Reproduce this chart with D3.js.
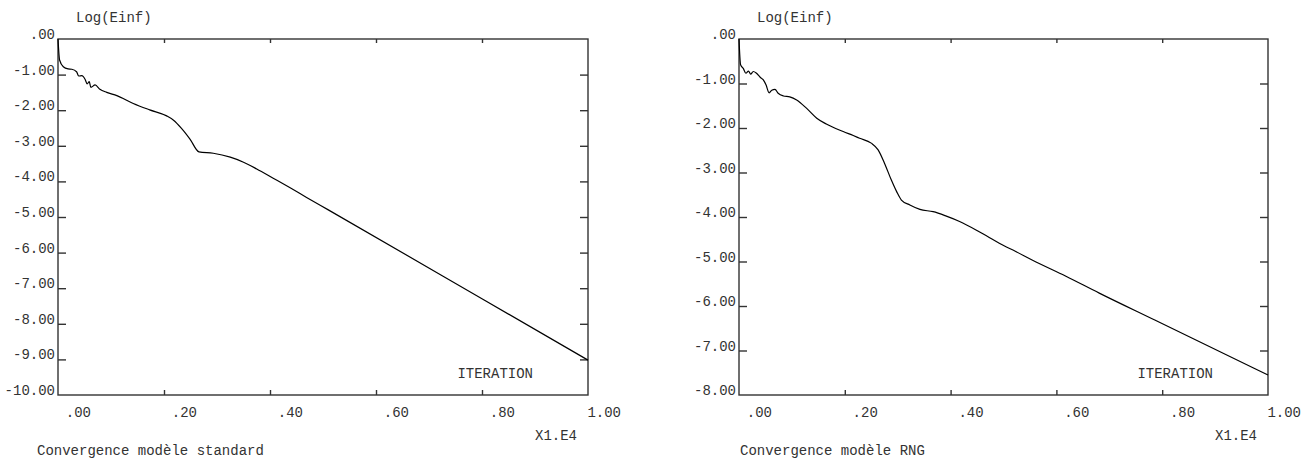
<!DOCTYPE html>
<html>
<head>
<meta charset="utf-8">
<script src="https://cdn.jsdelivr.net/npm/d3@7"></script>
<style>
  html, body { margin: 0; padding: 0; background: #fff; }
  svg { display: block; }
  text { font-family: "Liberation Mono", "Courier New", monospace; font-size: 14px; fill: #333; }
</style>
</head>
<body>
<svg id="chart" width="1309" height="462"></svg>
<script>
// ---- data ----
const xTickValues = [0, 0.2, 0.4, 0.6, 0.8, 1.0];
const xTickLabels = [".00", ".20", ".40", ".60", ".80", "1.00"];

const stdYTicks = [0, -1, -2, -3, -4, -5, -6, -7, -8, -9, -10];
const stdYLabels = [".00", "-1.00", "-2.00", "-3.00", "-4.00", "-5.00", "-6.00", "-7.00", "-8.00", "-9.00", "-10.00"];
const rngYTicks = [0, -1, -2, -3, -4, -5, -6, -7, -8];
const rngYLabels = [".00", "-1.00", "-2.00", "-3.00", "-4.00", "-5.00", "-6.00", "-7.00", "-8.00"];

const stdIter = [0, 0.003, 0.010, 0.019, 0.026, 0.035, 0.039, 0.045, 0.051, 0.055, 0.059, 0.062, 0.070, 0.079, 0.092, 0.111, 0.142, 0.173, 0.205, 0.218, 0.233, 0.249, 0.266, 0.293, 0.325, 0.350, 0.375, 0.406, 0.438, 0.469, 0.510, 0.804, 1.0];
const stdLog  = [0, -0.59, -0.78, -0.84, -0.85, -0.92, -1.04, -1.03, -1.13, -1.26, -1.20, -1.36, -1.29, -1.41, -1.50, -1.59, -1.81, -1.99, -2.16, -2.28, -2.51, -2.81, -3.17, -3.21, -3.32, -3.46, -3.65, -3.91, -4.18, -4.45, -4.80, -7.33, -9.02];

const rngIter = [0, 0.003, 0.008, 0.013, 0.018, 0.022, 0.027, 0.033, 0.040, 0.046, 0.051, 0.057, 0.062, 0.068, 0.074, 0.084, 0.096, 0.109, 0.128, 0.147, 0.165, 0.197, 0.216, 0.228, 0.250, 0.263, 0.275, 0.288, 0.298, 0.307, 0.323, 0.342, 0.367, 0.392, 0.417, 0.448, 0.470, 0.492, 0.524, 0.555, 0.618, 0.681, 0.785, 1.0];
const rngLog  = [0, -0.58, -0.66, -0.77, -0.72, -0.79, -0.73, -0.77, -0.86, -0.92, -1.03, -1.21, -1.15, -1.13, -1.22, -1.28, -1.30, -1.37, -1.56, -1.78, -1.91, -2.08, -2.17, -2.23, -2.34, -2.49, -2.79, -3.17, -3.43, -3.62, -3.73, -3.83, -3.88, -3.98, -4.10, -4.29, -4.44, -4.59, -4.78, -4.97, -5.33, -5.71, -6.31, -7.55];

const yTitle = "Log(Einf)";
const xTitle = "ITERATION";
const xUnit = "X1.E4";
const stdCaption = "Convergence modèle standard";
const rngCaption = "Convergence modèle RNG";

// ---- drawing ----
(function () {
const svg = d3.select("#chart");
const plotTop = 39, plotBottom = 395;

function panel(opt) {
  const x = d3.scaleLinear().domain([0, 1]).range([opt.x0, opt.x1]);
  const y = d3.scaleLinear().domain([0, opt.ymin]).range([plotTop, plotBottom]);
  const g = svg.append("g");
  const axisColor = "#333";

  g.append("rect").attr("x", opt.x0).attr("y", plotTop)
    .attr("width", opt.x1 - opt.x0).attr("height", plotBottom - plotTop)
    .attr("fill", "none").attr("stroke", axisColor).attr("stroke-width", 1.4);

  const inner = xTickValues.slice(1, -1);
  g.append("g").attr("transform", `translate(0,${plotTop})`)
    .call(d3.axisBottom(x).tickValues(inner).tickSize(4).tickFormat(""))
    .call(a => a.select(".domain").remove())
    .selectAll("line").attr("stroke", axisColor).attr("stroke-width", 1.4);
  g.append("g").attr("transform", `translate(0,${plotBottom})`)
    .call(d3.axisTop(x).tickValues(inner).tickSize(5).tickFormat(""))
    .call(a => a.select(".domain").remove())
    .selectAll("line").attr("stroke", axisColor).attr("stroke-width", 1.4);
  const yInner = opt.yTicks.slice(1, -1);
  g.append("g").attr("transform", `translate(${opt.x0},0)`)
    .call(d3.axisRight(y).tickValues(yInner).tickSize(8).tickFormat(""))
    .call(a => a.select(".domain").remove())
    .selectAll("line").attr("stroke", axisColor).attr("stroke-width", 1.4);
  g.append("g").attr("transform", `translate(${opt.x1},0)`)
    .call(d3.axisLeft(y).tickValues(yInner).tickSize(8).tickFormat(""))
    .call(a => a.select(".domain").remove())
    .selectAll("line").attr("stroke", axisColor).attr("stroke-width", 1.4);

  g.selectAll(".ylab").data(opt.yTicks).enter().append("text")
    .attr("x", opt.x0 - 3).attr("y", d => y(d))
    .attr("text-anchor", "end").text((d, i) => opt.yLabels[i]);

  g.selectAll(".xlab").data(xTickValues).enter().append("text")
    .attr("x", d => x(d) + 33).attr("y", 417)
    .attr("text-anchor", "end").text((d, i) => xTickLabels[i]);

  g.append("text").attr("x", opt.x0 + 18).attr("y", 22).text(yTitle);
  g.append("text").attr("x", opt.x1 - 55).attr("y", 378).attr("text-anchor", "end").text(xTitle);
  g.append("text").attr("x", opt.x1 - 11).attr("y", 440).attr("text-anchor", "end").text(xUnit);
  g.append("text").attr("x", opt.capX).attr("y", 455).text(opt.caption);

  const pts = opt.xs.map((v, i) => [v, opt.ys[i]]);
  const line = d3.line().x(d => x(d[0])).y(d => y(d[1])).curve(d3.curveMonotoneX);
  g.append("path").datum(pts).attr("d", line)
    .attr("fill", "none").attr("stroke", "#000").attr("stroke-width", 1.2);
}

panel({ x0: 58, x1: 588, ymin: -10, yTicks: stdYTicks, yLabels: stdYLabels,
        xs: stdIter, ys: stdLog, caption: stdCaption, capX: 37 });
panel({ x0: 739, x1: 1268, ymin: -8, yTicks: rngYTicks, yLabels: rngYLabels,
        xs: rngIter, ys: rngLog, caption: rngCaption, capX: 740 });
})();
</script>
</body>
</html>
